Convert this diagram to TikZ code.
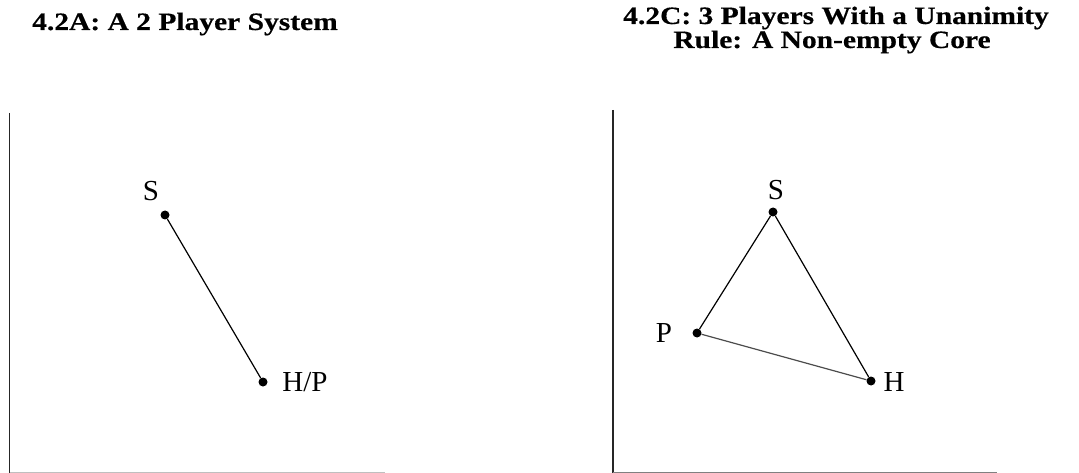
\documentclass[tikz,border=0pt]{standalone}
\usepackage{fontspec}
\setmainfont{Liberation Serif}
\newfontfamily\ttlfont[FakeStretch=1.18,FakeBold=0.4]{Liberation Serif}
\begin{document}
\begin{tikzpicture}[x=1pt,y=-1pt,
  dot/.style={circle,fill=black,inner sep=0pt,minimum size=9pt},
  lbl/.style={inner sep=0pt,font=\fontsize{29}{30}\selectfont},
  ttl/.style={inner sep=0pt,anchor=base,font=\ttlfont\fontsize{25}{23}\selectfont\bfseries},
  axis/.style={line width=1.4pt,black!85},
  edge/.style={line width=1.2pt,black}]
\useasboundingbox (0,0) rectangle (1079,473);
% titles
\node[ttl,anchor=base west] (tA) at (32,30) {4.2A: A 2 Player System};
\node[ttl] (tC1) at (836,24) {4.2C: 3 Players With a Unanimity};
\node[ttl] (tC2) at (832,48) {Rule: A Non-empty Core};
% left panel axes
\coordinate (la1) at (9.5,113);
\coordinate (la2) at (9.5,473);
\coordinate (lb1) at (9.5,472);
\coordinate (lb2) at (385,472);
\draw[axis] (la1) -- (la2);
\draw[line width=1pt,black!25] (lb1) -- (lb2);
% right panel axes
\coordinate (ra1) at (613,110);
\coordinate (ra2) at (613,472.5);
\coordinate (rb1) at (613,472);
\coordinate (rb2) at (997,472);
\draw[axis] (ra1) -- (ra2);
\draw[line width=1pt,black!50] (rb1) -- (rb2);
% left diagram
\node[dot] (S1) at (165,215) {};
\node[dot] (HP) at (263,382) {};
\node[lbl] (S1l) at (151,191) {S};
\node[lbl] (HPl) at (305,382) {H/P};
\draw[edge] (S1) -- (HP);
% right diagram
\node[dot] (S2) at (773,212) {};
\node[dot] (P) at (697,333) {};
\node[dot] (H) at (871,381) {};
\node[lbl] (S2l) at (776,190) {S};
\node[lbl] (Pl) at (664,333) {P};
\node[lbl] (Hl) at (894,382) {H};
\draw[edge] (S2) -- (P);
\draw[edge] (S2) -- (H);
\draw[edge,black!70] (P) -- (H);
\end{tikzpicture}
\end{document}
